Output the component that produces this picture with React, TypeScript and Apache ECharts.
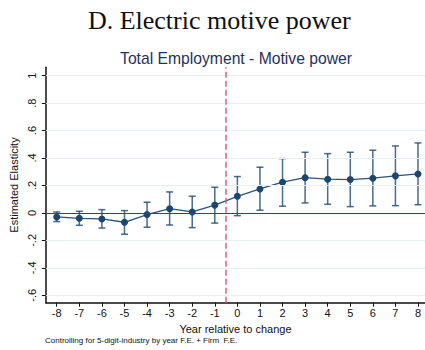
import React, { useEffect, useRef } from "react";
import * as echarts from "echarts";

// Event-study estimates: year relative to change, point estimate and 95% CI
const years = [-8, -7, -6, -5, -4, -3, -2, -1, 0, 1, 2, 3, 4, 5, 6, 7, 8];
const coef = [-0.029, -0.039, -0.044, -0.068, -0.012, 0.031, 0.007, 0.057, 0.121, 0.175, 0.224, 0.257, 0.246, 0.243, 0.253, 0.27, 0.284];
const ciLow = [-0.063, -0.09, -0.11, -0.155, -0.104, -0.088, -0.107, -0.074, -0.02, 0.02, 0.049, 0.073, 0.063, 0.046, 0.051, 0.053, 0.06];
const ciHigh = [0.007, 0.012, 0.024, 0.017, 0.078, 0.153, 0.122, 0.187, 0.265, 0.333, 0.396, 0.442, 0.432, 0.442, 0.457, 0.488, 0.51];

const xTicks = [-8, -7, -6, -5, -4, -3, -2, -1, 0, 1, 2, 3, 4, 5, 6, 7, 8];
const yTicks = [-0.6, -0.4, -0.2, 0, 0.2, 0.4, 0.6, 0.8, 1];
const eventLine = -0.5;

const NAVY = "#1a476f";

function stataLabel(v: number): string {
  const r = Math.round(v * 10) / 10;
  if (r === 0) return "0";
  if (Math.abs(r) === 1) return r > 0 ? "1" : "-1";
  return r.toFixed(1).replace("0.", ".");
}

export default function App() {
  const ref = useRef<HTMLDivElement>(null);

  useEffect(() => {
    if (!ref.current) return;
    const chart = echarts.init(ref.current, undefined, { renderer: "svg" });

    const ciData = years.map((y, i) => [y, ciLow[i], ciHigh[i]]);
    const pointData = years.map((y, i) => [y, coef[i]]);

    // light horizontal grid at each labelled y tick
    const gridLines = yTicks
      .filter((v) => v !== 0)
      .map((v) => ({ yAxis: v, lineStyle: { color: "#e6eff1", width: 1, type: "solid" } }));

    chart.setOption({
      animation: false,
      backgroundColor: "#ffffff",
      grid: { left: 43.3, right: 0, top: 67.3, bottom: 47.3, containLabel: false },
      graphic: [
        {
          type: "text",
          x: 219.3,
          y: 20,
          style: {
            text: "D. Electric motive power",
            fontFamily: "Liberation Serif",
            fontSize: 26,
            fill: "#111111",
            align: "center",
            verticalAlign: "middle",
          },
        },
        {
          type: "text",
          x: 236,
          y: 58,
          style: {
            text: "Total Employment - Motive power",
            fontFamily: "Liberation Sans",
            fontSize: 15.7,
            fill: "#1e3160",
            align: "center",
            verticalAlign: "middle",
          },
        },
        {
          type: "text",
          x: 45,
          y: 340,
          style: {
            text: "Controlling for 5-digit-industry by year F.E. + Firm  F.E.",
            fontFamily: "Liberation Sans",
            fontSize: 8,
            fill: "#111111",
            align: "left",
            verticalAlign: "middle",
          },
        },
      ],
      xAxis: {
        type: "value",
        min: -8.48,
        max: 8.31,
        name: "Year relative to change",
        nameLocation: "middle",
        nameGap: 19,
        nameTextStyle: { fontFamily: "Liberation Sans", fontSize: 11, color: "#111" },
        axisLine: { show: true, onZero: false, lineStyle: { color: "#111", width: 1.5 } },
        axisTick: { show: true, length: 4, customValues: xTicks, lineStyle: { color: "#111", width: 1 } },
        axisLabel: {
          customValues: xTicks,
          fontFamily: "Liberation Sans",
          fontSize: 11,
          color: "#111",
          margin: 5,
        },
        splitLine: { show: false },
      },
      yAxis: {
        type: "value",
        min: -0.654,
        max: 1.061,
        name: "Estimated Elasticity",
        nameLocation: "middle",
        nameGap: 25,
        nameRotate: 90,
        nameTextStyle: { fontFamily: "Liberation Sans", fontSize: 11, color: "#111" },
        axisLine: { show: true, onZero: false, lineStyle: { color: "#111", width: 1.5 } },
        axisTick: { show: true, length: 4, customValues: yTicks, lineStyle: { color: "#111", width: 1 } },
        axisLabel: {
          customValues: yTicks,
          rotate: 90,
          fontFamily: "Liberation Sans",
          fontSize: 11,
          color: "#111",
          margin: 8,
          formatter: (v: number) => stataLabel(v),
        },
        splitLine: { show: false },
      },
      series: [
        {
          type: "line",
          data: [],
          silent: true,
          z: 1,
          markLine: {
            silent: true,
            symbol: "none",
            label: { show: false },
            data: gridLines,
          },
        },
        {
          type: "line",
          data: [],
          silent: true,
          z: 2,
          markLine: {
            silent: true,
            symbol: "none",
            label: { show: false },
            data: [
              { yAxis: 0, lineStyle: { color: "#b0103a", width: 1.2, type: "solid" } },
              { xAxis: eventLine, lineStyle: { color: "#d9607e", width: 1.5, type: [6, 3] } },
            ],
          },
        },
        {
          type: "custom",
          data: ciData,
          encode: { x: 0, y: [1, 2] },
          renderItem: (params: any, api: any) => {
            const x = api.value(0);
            const lo = api.coord([x, api.value(1)]);
            const hi = api.coord([x, api.value(2)]);
            const hw = 3.5;
            const style = { stroke: NAVY, lineWidth: 1.5, opacity: 0.8 };
            return {
              type: "group",
              children: [
                { type: "line", shape: { x1: lo[0], y1: lo[1], x2: hi[0], y2: hi[1] }, style },
                { type: "line", shape: { x1: lo[0] - hw, y1: lo[1], x2: lo[0] + hw, y2: lo[1] }, style },
                { type: "line", shape: { x1: hi[0] - hw, y1: hi[1], x2: hi[0] + hw, y2: hi[1] }, style },
              ],
            };
          },
          z: 3,
        },
        {
          type: "line",
          data: pointData,
          symbol: "circle",
          symbolSize: 7,
          showSymbol: true,
          lineStyle: { color: "#2f5278", width: 1.3 },
          itemStyle: { color: NAVY },
          z: 4,
        },
      ],
    });

    return () => chart.dispose();
  }, []);

  return (
    <div
      ref={ref}
      style={{ position: "fixed", left: 0, top: 0, width: 425, height: 350, background: "#fff" }}
    />
  );
}
